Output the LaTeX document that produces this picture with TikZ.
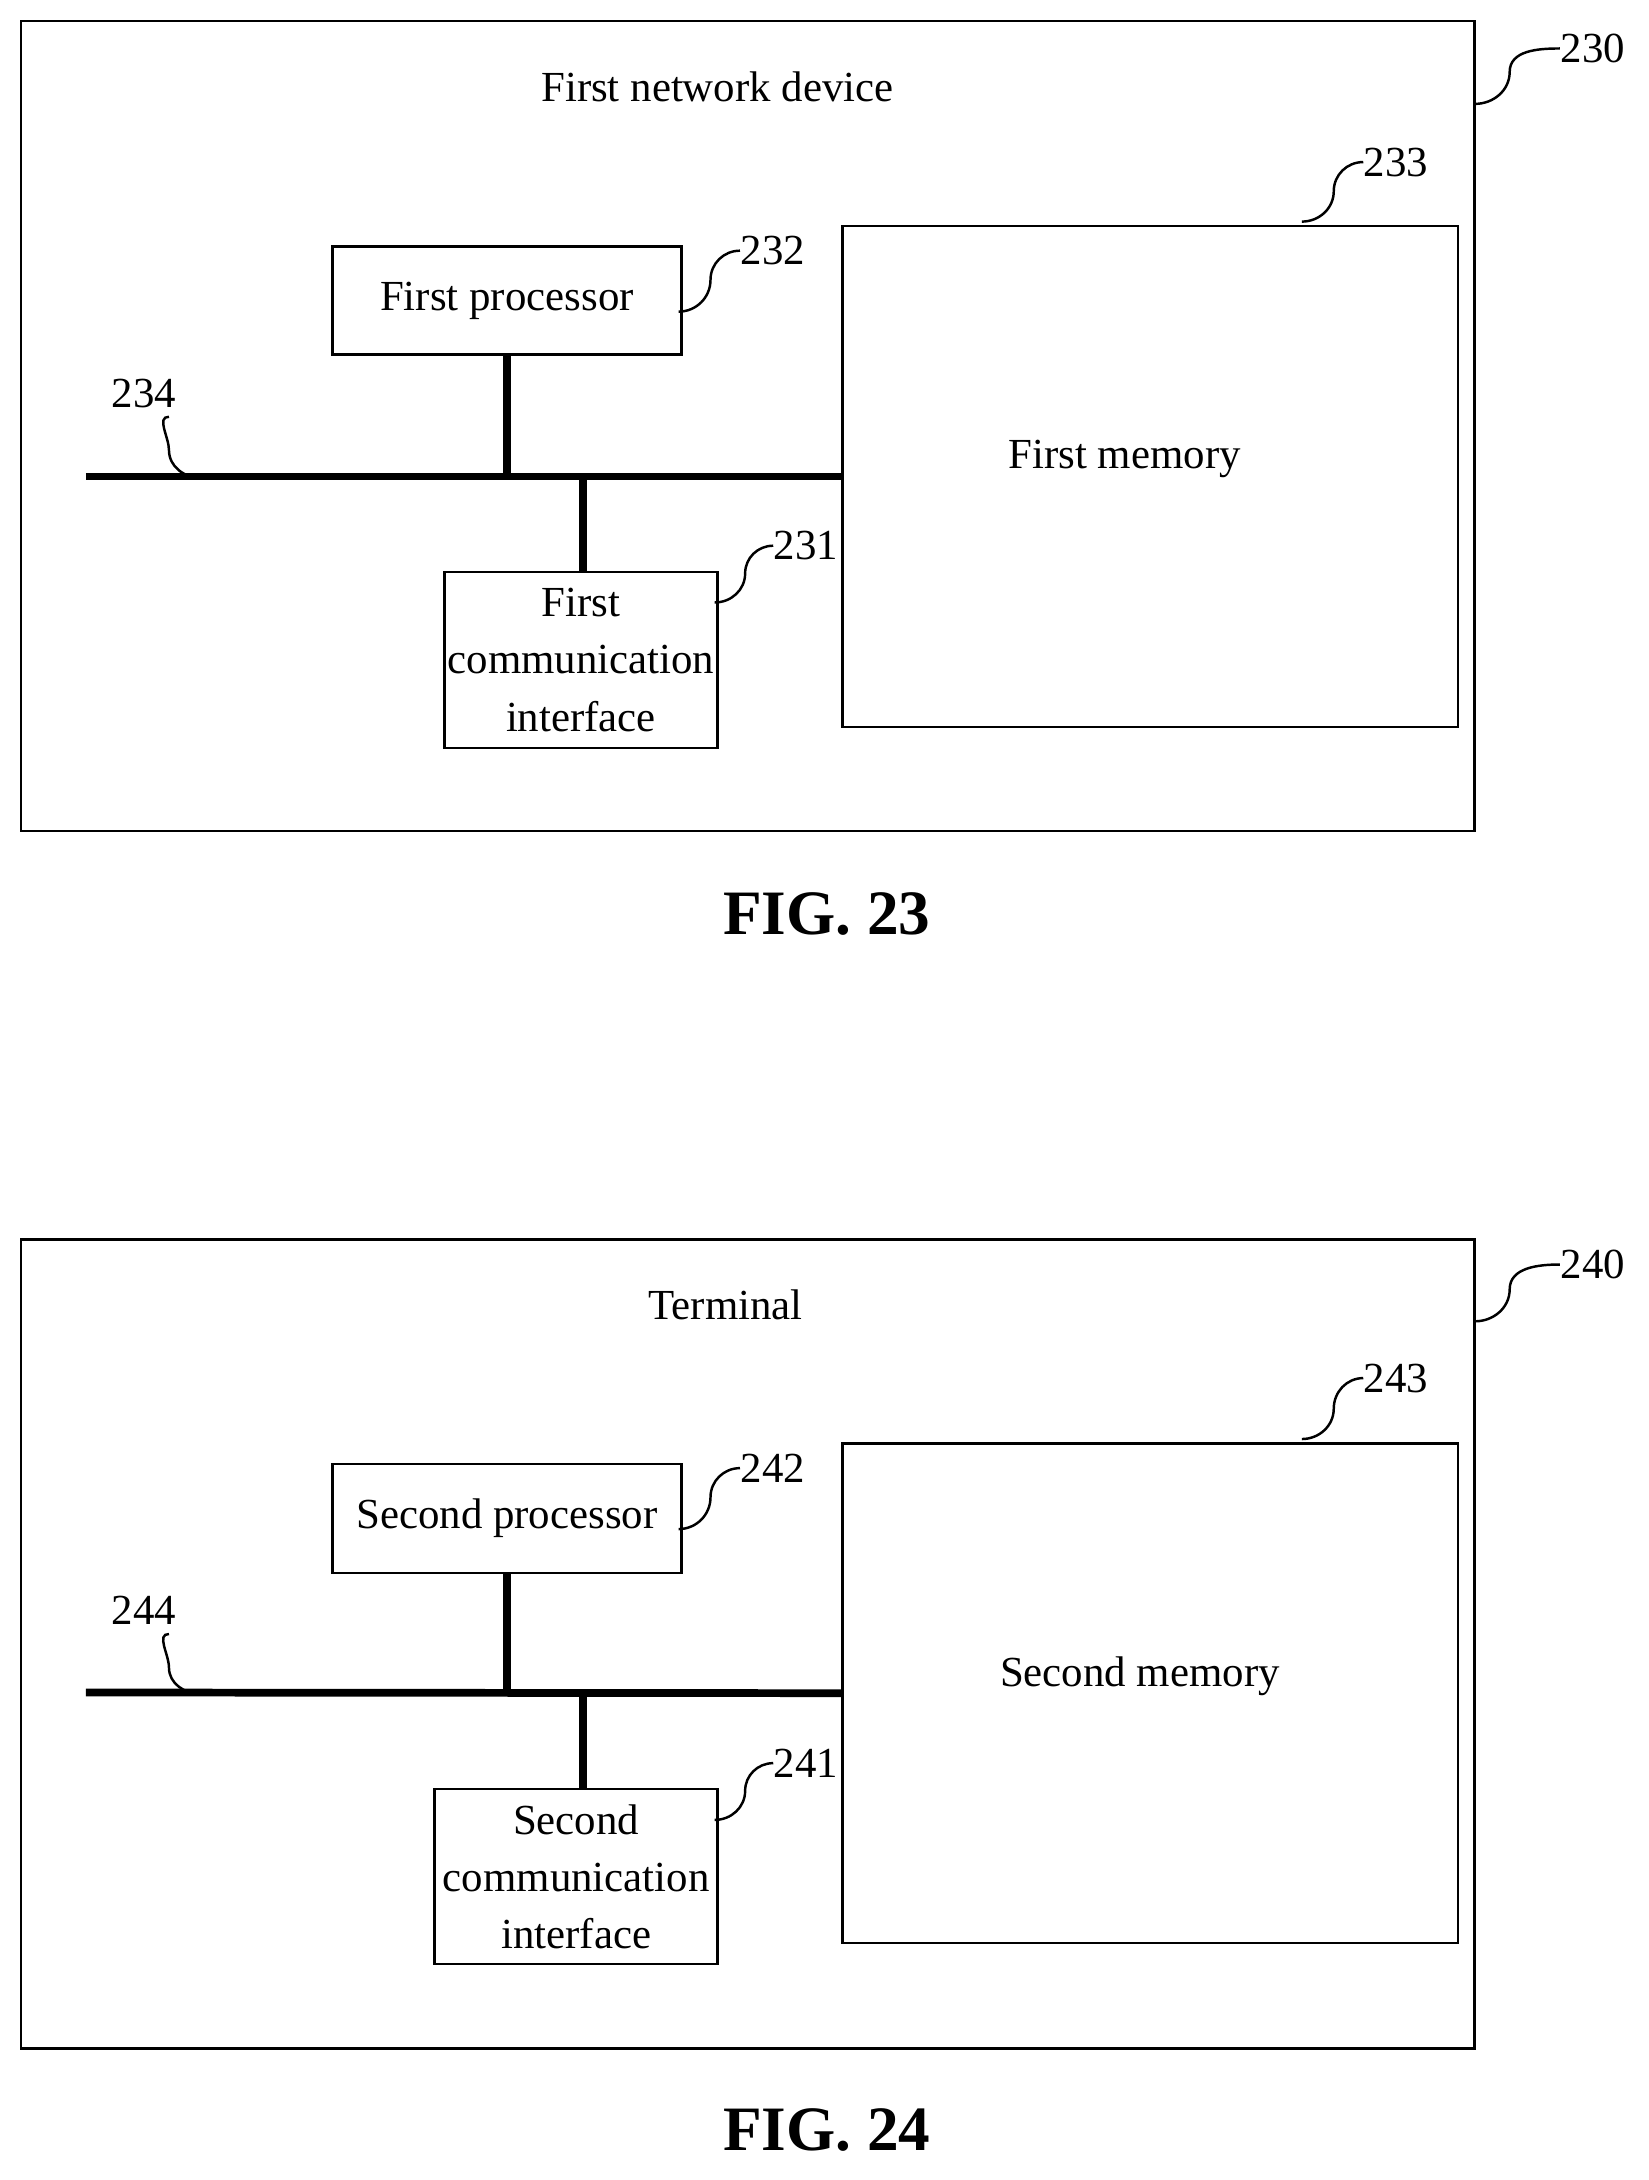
\documentclass[tikz,border=0pt]{standalone}
\usepackage{fontspec}
\setmainfont{Liberation Serif}
\usetikzlibrary{positioning,calc}

\begin{document}
\begin{tikzpicture}[
		x=0.01385cm, y=-0.01385cm,
		every text node part/.style={align=center},
		every node/.style={font=\fontsize{12.2}{16.3}\selectfont, inner sep=0pt},
		box/.style={draw, line width=0.7pt},
		bus/.style={line width=2.2pt},
		lead/.style={line width=0.7pt},
		figlabel/.style={font=\fontsize{18}{20}\selectfont\bfseries}
	]
	\useasboundingbox (0,0) rectangle (1190,1574);

	\begin{scope}
		\node(outer)[box, minimum width=14.54cm, minimum height=8.10cm] at (540,307.5) {};
		\node(title) at (518,63) {First network device};
		\node(mem)[box, minimum width=6.16cm, minimum height=5.01cm] at (830.5,344) {};
		\node(memtext) at (812,331) {First memory};
		\node(proc)[box, minimum width=3.49cm, minimum height=1.08cm] at (366,217) {First processor};
		\node(iface)[box, minimum width=2.73cm, minimum height=1.76cm] at (419.5,476.5) {First\\communication\\interface};

		\coordinate(busstart) at (62,344);
		\coordinate(j) at (421,344);
		\draw[bus] (busstart) -- (mem.west);
		\draw[bus] (proc.south) -- (proc.south |- busstart);
		\draw[bus] (j) -- (j |- iface.north);

		\node(n230) at (1150,35) {230};
		\node(n233) at (1008,117) {233};
		\node(n232) at (558,181) {232};
		\node(n231) at (582,394) {231};
		\node(n234) at (104,284) {234};
		\draw[lead] (1065,75) to[out=0,in=-90] (1090,52) to[out=90,in=180] (n230.west);
		\draw[lead] (940,160) to[out=0,in=-90] (963,138) to[out=90,in=180] (n233.west);
		\draw[lead] (490,225) to[out=0,in=-90] (513,202) to[out=90,in=180] (n232.west);
		\draw[lead] (516,435) to[out=0,in=-90] (538,414) to[out=90,in=180] (n231.west);
		\draw[lead] (n234.south) ++(18,6) to[out=180,in=90] (122,325) to[out=-90,in=180] (145,345);

		\node(fig23)[figlabel] at (597,660) {FIG. 23};
	\end{scope}

	\begin{scope}[shift={(0,879)}]
		\node(outer2)[box, minimum width=14.54cm, minimum height=8.09cm] at (540,308) {};
		\node(title2) at (524,63) {Terminal};
		\node(mem2)[box, minimum width=6.16cm, minimum height=5.00cm] at (830.5,343.5) {};
		\node(memtext2) at (823,331) {Second memory};
		\node(proc2)[box, minimum width=3.49cm, minimum height=1.09cm] at (366,217.5) {Second processor};
		\node(iface2)[box, minimum width=2.83cm, minimum height=1.75cm] at (416,476) {Second\\communication\\interface};

		\coordinate(busstart2) at (62,343);
		\coordinate(j2) at (421,343);
		\draw[bus] (busstart2) -- (mem2.west);
		\draw[bus] (proc2.south) -- (proc2.south |- busstart2);
		\draw[bus] (j2) -- (j2 |- iface2.north);

		\node(n240) at (1150,34) {240};
		\node(n243) at (1008,116) {243};
		\node(n242) at (558,181) {242};
		\node(n241) at (582,394) {241};
		\node(n244) at (104,284) {244};
		\draw[lead] (1065,75) to[out=0,in=-90] (1090,52) to[out=90,in=180] (n240.west);
		\draw[lead] (940,160) to[out=0,in=-90] (963,138) to[out=90,in=180] (n243.west);
		\draw[lead] (490,225) to[out=0,in=-90] (513,202) to[out=90,in=180] (n242.west);
		\draw[lead] (516,435) to[out=0,in=-90] (538,414) to[out=90,in=180] (n241.west);
		\draw[lead] (n244.south) ++(18,6) to[out=180,in=90] (122,325) to[out=-90,in=180] (145,344);

		\node(fig24)[figlabel] at (597,659) {FIG. 24};
	\end{scope}
\end{tikzpicture}
\end{document}
